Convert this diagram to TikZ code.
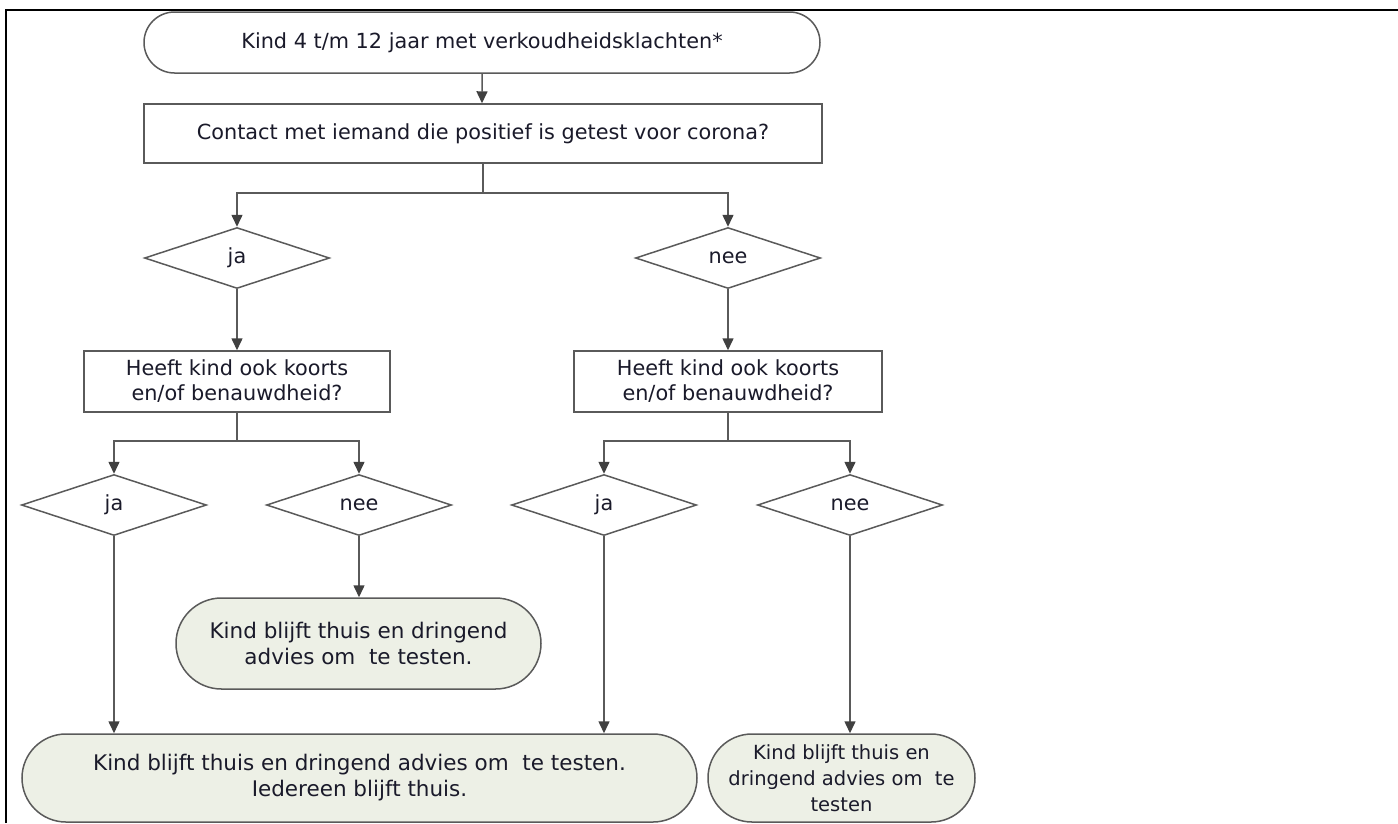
\documentclass[tikz,border=0pt]{standalone}
\usepackage{fontspec}
\setmainfont{DejaVu Sans}
\usetikzlibrary{shapes.geometric,shapes.misc,arrows.meta}
\definecolor{linegray}{HTML}{5A5A5A}
\definecolor{tipgray}{HTML}{404040}
\definecolor{termfill}{HTML}{EDF0E6}
\definecolor{txt}{HTML}{1A1A2A}
\begin{document}
\begin{tikzpicture}[x=1pt,y=-1pt,
  every node/.style={text=txt, font=\fontsize{20.8}{25}\selectfont, align=center, inner sep=0pt},
  term/.style={rounded rectangle, draw=linegray, line width=1.5pt, fill=white},
  endterm/.style={term, fill=termfill, font=\fontsize{21.5}{26}\selectfont},
  procbox/.style={rectangle, draw=linegray, line width=1.5pt, fill=white},
  decis/.style={diamond, draw=linegray, line width=1.5pt, aspect=3, minimum width=185pt, minimum height=61pt},
  arr/.style={draw=linegray, line width=1.5pt, -{Triangle[length=12pt,width=11pt,color=tipgray]}},
  conn/.style={draw=linegray, line width=1.5pt}
]
\useasboundingbox (0,0) rectangle (1398,823);
\draw[line width=2pt, black] (5.5,823) -- (5.5,9.5) -- (1398,9.5);

\node[term, minimum width=676pt, minimum height=61pt] (start) at (482,42.5) {Kind 4 t/m 12 jaar met verkoudheidsklachten*};
\node[procbox, minimum width=678pt, minimum height=59pt] (q1) at (483,133.5) {Contact met iemand die positief is getest voor corona?};
\node[decis] (d1) at (237,258) {ja};
\node[decis] (d2) at (728,258) {nee};
\node[procbox, minimum width=306pt, minimum height=61pt] (q2) at (237,381.5) {Heeft kind ook koorts\\en/of benauwdheid?};
\node[procbox, minimum width=308pt, minimum height=61pt] (q3) at (728,381.5) {Heeft kind ook koorts\\en/of benauwdheid?};
\node[decis] (d3) at (114,505) {ja};
\node[decis] (d4) at (359,505) {nee};
\node[decis] (d5) at (604,505) {ja};
\node[decis] (d6) at (850,505) {nee};
\node[endterm, minimum width=365pt, minimum height=91pt] (e1) at (358.5,643.5) {Kind blijft thuis en dringend\\advies om\ \ te testen.};
\node[endterm, minimum width=675pt, minimum height=88pt] (e2) at (359.5,778) {Kind blijft thuis en dringend advies om\ \ te testen.\\Iedereen blijft thuis.};
\node[endterm, minimum width=267pt, minimum height=88pt, font=\fontsize{19.5}{26}\selectfont] (e3) at (841.5,778) {Kind blijft thuis en\\dringend advies om\ \ te\\testen};

\coordinate (s1) at (483,193);
\coordinate (s2) at (237,441);
\coordinate (s3) at (728,441);

\draw[arr] (start) -- (start |- q1.north);
\draw[conn] (q1.south -| s1) -- (s1);
\draw[arr] (s1) -| (d1.north);
\draw[arr] (s1) -| (d2.north);
\draw[arr] (d1.south) -- (d1.south |- q2.north);
\draw[arr] (d2.south) -- (d2.south |- q3.north);
\draw[conn] (q2.south) -- (s2);
\draw[arr] (s2) -| (d3.north);
\draw[arr] (s2) -| (d4.north);
\draw[conn] (q3.south) -- (s3);
\draw[arr] (s3) -| (d5.north);
\draw[arr] (s3) -| (d6.north);
\draw[arr] (d4.south) -- (d4.south |- e1.north);
\draw[arr] (d3.south) -- (d3.south |- e2.north);
\draw[arr] (d5.south) -- (d5.south |- e2.north);
\draw[arr] (d6.south) -- (d6.south |- e3.north);
\end{tikzpicture}
\end{document}
